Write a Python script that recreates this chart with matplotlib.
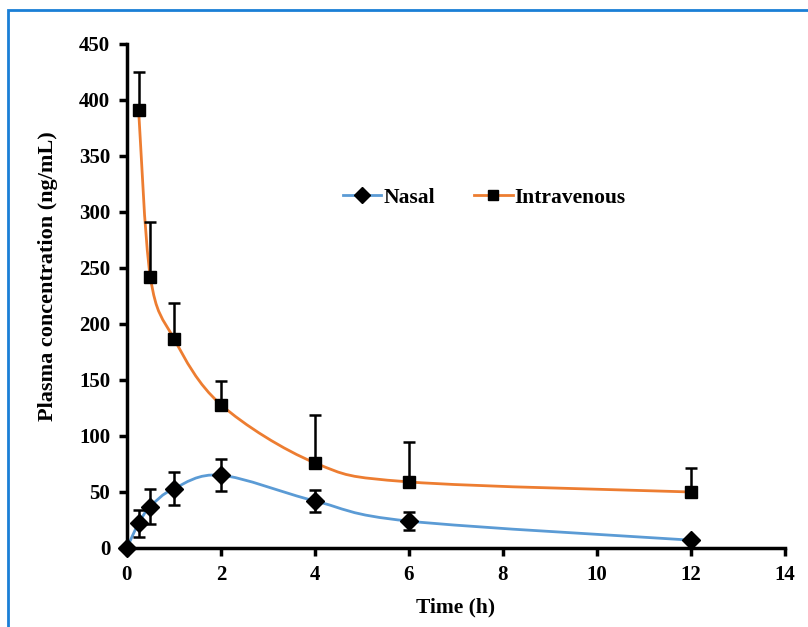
import numpy as np
import matplotlib.pyplot as plt
from matplotlib.path import Path
from matplotlib.patches import PathPatch, Rectangle
from matplotlib.lines import Line2D

plt.rcParams['font.family'] = ['Liberation Serif', 'DejaVu Serif']
plt.rcParams['font.weight'] = 'bold'

# data
t_nasal = [0, 0.25, 0.5, 1, 2, 4, 6, 12]
c_nasal = [0, 22, 37, 53, 65, 42, 24, 7]
sd_nasal = [0, 12, 16, 15, 14, 10, 8, 0]

t_iv = [0.25, 0.5, 1, 2, 4, 6, 12]
c_iv = [391, 242, 187, 128, 76, 59, 50]
sd_iv = [34, 49, 32, 21, 43, 36, 21]

blue = '#5b9bd5'
orange = '#ed7d31'


def smooth_path(x, y):
    # Excel-like smoothed line: cubic Bezier with Catmull-Rom control points
    x = np.asarray(x, float)
    y = np.asarray(y, float)
    verts = [(x[0], y[0])]
    codes = [Path.MOVETO]
    n = len(x)
    for i in range(n - 1):
        p0 = (x[max(i - 1, 0)], y[max(i - 1, 0)])
        p1 = (x[i], y[i])
        p2 = (x[i + 1], y[i + 1])
        p3 = (x[min(i + 2, n - 1)], y[min(i + 2, n - 1)])
        c1 = (p1[0] + (p2[0] - p0[0]) / 6, p1[1] + (p2[1] - p0[1]) / 6)
        c2 = (p2[0] - (p3[0] - p1[0]) / 6, p2[1] - (p3[1] - p1[1]) / 6)
        verts += [c1, c2, p2]
        codes += [Path.CURVE4] * 3
    return Path(verts, codes)


fig = plt.figure(figsize=(8.08, 6.27), dpi=100)
ax = fig.add_axes([0.157, 0.126, 0.8145, 0.804])

ax.add_patch(PathPatch(smooth_path(t_nasal, c_nasal), fill=False, ec=blue, lw=2, zorder=2))
ax.add_patch(PathPatch(smooth_path(t_iv, c_iv), fill=False, ec=orange, lw=2, zorder=2))

ax.errorbar(t_nasal, c_nasal, yerr=sd_nasal, fmt='none', ecolor='black',
            elinewidth=1.8, capsize=4, capthick=1.8, zorder=3)
ax.errorbar(t_iv, c_iv, yerr=[[0] * len(sd_iv), sd_iv], fmt='none', ecolor='black',
            elinewidth=1.8, capsize=4, capthick=1.8, zorder=3)
ax.plot(t_nasal, c_nasal, 'D', color='black', ms=9, zorder=4, clip_on=False)
ax.plot(t_iv, c_iv, 's', color='black', ms=8, zorder=4, clip_on=False)

ax.set_xlim(0, 14)
ax.set_ylim(0, 450)
ax.set_xticks(range(0, 15, 2))
ax.set_yticks(range(0, 451, 50))
for s in ['top', 'right']:
    ax.spines[s].set_visible(False)
for s in ['left', 'bottom']:
    ax.spines[s].set_linewidth(2.5)
ax.tick_params(direction='out', length=6, width=2.5, labelsize=15, pad=6)
for lab in ax.get_xticklabels() + ax.get_yticklabels():
    lab.set_fontweight('bold')

ax.set_xlabel('Time (h)', fontsize=15.5, fontweight='bold', labelpad=9)
ax.set_ylabel('Plasma concentration (ng/mL)', fontsize=16, fontweight='bold')
ax.yaxis.set_label_coords(-0.105, 0.54)

h1 = Line2D([], [], color=blue, lw=2, marker='D', mfc='black', mec='black', ms=8)
h2 = Line2D([], [], color=orange, lw=2, marker='s', mfc='black', mec='black', ms=7)
ax.legend([h1, h2], ['Nasal', 'Intravenous'], loc='center', bbox_to_anchor=(0.543, 0.695),
          ncol=2, frameon=False, handlelength=1.8, handletextpad=0.1,
          columnspacing=1.8, prop={'weight': 'bold', 'size': 15.5})

# blue frame around the picture (top and left only visible)
fig.add_artist(Rectangle((8 / 808, -0.1), 1.2, 1 - 10 / 627 + 0.1, transform=fig.transFigure,
                         fill=False, ec='#1a7fd6', lw=2))

fig.savefig('out.png', dpi=100)
